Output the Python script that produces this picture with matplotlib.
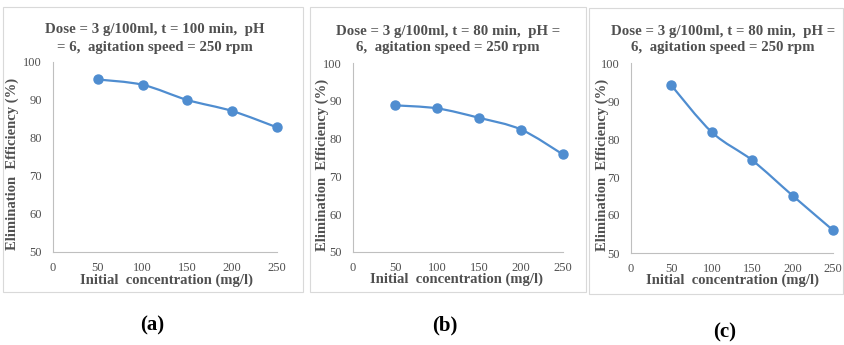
import numpy as np
import matplotlib.pyplot as plt
from matplotlib.path import Path
from matplotlib.patches import PathPatch, Rectangle

# data
conc = [50, 100, 150, 200, 250]
eff_a = [95.4, 94.0, 90.0, 87.1, 82.8]
eff_b = [88.8, 88.0, 85.5, 82.4, 75.8]
eff_c = [94.1, 81.8, 74.4, 65.1, 56.0]

titles = [
    ["Dose = 3 g/100ml, t = 100 min,  pH", "= 6,  agitation speed = 250 rpm"],
    ["Dose = 3 g/100ml, t = 80 min,  pH =", "6,  agitation speed = 250 rpm"],
    ["Dose = 3 g/100ml, t = 80 min,  pH =", "6,  agitation speed = 250 rpm"],
]
panel_tags = ["(a)", "(b)", "(c)"]
xticks = [0, 50, 100, 150, 200, 250]
yticks = [50, 60, 70, 80, 90, 100]

plt.rcParams['font.family'] = ['Liberation Serif', 'DejaVu Serif']

W, H = 844, 345
fig = plt.figure(figsize=(W / 100, H / 100), dpi=100)


def box(l, t, r, b):
    return [l / W, 1 - b / H, (r - l) / W, (b - t) / H]


def fx(x):
    return x / W


def fy(y):
    return 1 - y / H


def smooth_path(xs, ys):
    # cubic bezier through the points, like Excel's smoothed line
    xs = np.asarray(xs, float)
    ys = np.asarray(ys, float)
    pts = np.column_stack([xs, ys])
    verts = [pts[0]]
    codes = [Path.MOVETO]
    n = len(pts)
    for i in range(n - 1):
        p0 = pts[max(i - 1, 0)]
        p1 = pts[i]
        p2 = pts[i + 1]
        p3 = pts[min(i + 2, n - 1)]
        c1 = p1 + (p2 - p0) / 6
        c2 = p2 - (p3 - p1) / 6
        verts += [c1, c2, p2]
        codes += [Path.CURVE4] * 3
    return Path(verts, codes)


# layout in pixels: frame, axes, title centre x / line ys, ylabel x, xlabel (x, y), tag (x, y)
panels = [
    dict(frame=(3, 7, 303, 292), axes=(53, 62, 277, 252), tx=155, ty=(30, 47),
         ylx=12, xl=(166, 280), tag=(152, 325), data=eff_a),
    dict(frame=(310, 7, 586, 292), axes=(353, 63, 563, 252), tx=448, ty=(31, 47),
         ylx=322, xl=(457, 279), tag=(445, 325), data=eff_b),
    dict(frame=(589, 8, 843, 294), axes=(631, 63, 833, 253), tx=723, ty=(31, 48),
         ylx=602, xl=(732, 280), tag=(725, 332), data=eff_c),
]

blue = '#4f8dd0'
grey_txt = '#505050'

for i, p in enumerate(panels):
    l, t, r, b = p['frame']
    fig.patches.append(Rectangle((fx(l), fy(b)), (r - l) / W, (b - t) / H,
                                 transform=fig.transFigure, fill=False,
                                 edgecolor='#d9d9d9', linewidth=0.8))
    ax = fig.add_axes(box(*p['axes']))
    ax.set_xlim(0, 250)
    ax.set_ylim(50, 100)
    ax.set_xticks(xticks)
    ax.set_yticks(yticks)
    for s in ['top', 'right']:
        ax.spines[s].set_visible(False)
    for s in ['left', 'bottom']:
        ax.spines[s].set_color('#bfbfbf')
        ax.spines[s].set_linewidth(0.8)
    ax.tick_params(length=0, labelsize=9, labelcolor=grey_txt)
    ax.tick_params(axis='y', pad=8)
    ax.tick_params(axis='x', pad=7)
    ax.patch.set_alpha(0)

    ax.add_patch(PathPatch(smooth_path(conc, p['data']), fill=False,
                           edgecolor=blue, linewidth=1.6, clip_on=False))
    ax.plot(conc, p['data'], linestyle='none', marker='o', markersize=6.5,
            color=blue, clip_on=False, zorder=3)

    fig.text(fx(p['tx']), fy(p['ty'][0]), titles[i][0], ha='center', va='center',
             fontsize=10.7, fontweight='bold', color=grey_txt)
    fig.text(fx(p['tx']), fy(p['ty'][1]), titles[i][1], ha='center', va='center',
             fontsize=10.7, fontweight='bold', color=grey_txt)
    ycen = (p['axes'][1] + p['axes'][3]) / 2 + 7
    fig.text(fx(p['ylx']), fy(ycen), "Elimination  Efficiency (%)", rotation=90,
             ha='center', va='center', fontsize=10.5, fontweight='bold', color=grey_txt)
    fig.text(fx(p['xl'][0]), fy(p['xl'][1]), "Initial  concentration (mg/l)",
             ha='center', va='center', fontsize=10.5, fontweight='bold', color=grey_txt)
    fig.text(fx(p['tag'][0]), fy(p['tag'][1]), panel_tags[i], ha='center', va='center',
             fontsize=15, fontweight='bold', color='black')

fig.savefig('out.png', dpi=100)
